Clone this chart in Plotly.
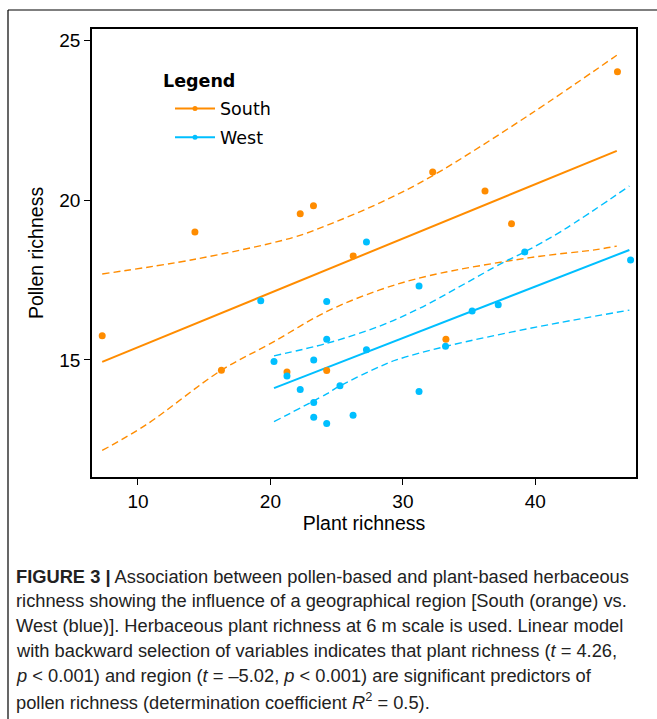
import plotly.graph_objects as go

# ---------------- data ----------------
south_x = [7.3, 14.3, 16.3, 21.25, 22.25, 23.25, 24.25, 26.25, 32.25, 33.25, 36.2, 38.2, 46.2]
south_y = [15.76, 19.0, 14.68, 14.62, 19.57, 19.82, 14.67, 18.25, 20.88, 15.65, 20.28, 19.26, 24.01]

west_x = [19.27, 24.25, 24.25, 20.27, 23.27, 21.25, 27.25, 22.25, 25.25, 23.27, 23.27, 24.25,
          26.24, 31.22, 31.22, 35.23, 37.2, 33.22, 39.2, 47.19, 27.25]
west_y = [16.85, 16.83, 15.65, 14.95, 15.0, 14.5, 15.32, 14.08, 14.19, 13.67, 13.21, 13.01,
          13.27, 17.31, 14.01, 16.53, 16.73, 15.43, 18.38, 18.13, 18.69]

# fitted lines (end points)
south_fit_x = [7.3, 46.15]
south_fit_y = [14.94, 21.54]
west_fit_x = [20.27, 47.1]
west_fit_y = [14.12, 18.44]

# confidence bands
south_up_x = [7.3, 14.3, 21.7, 24.5, 28.3, 32.2, 39.6, 46.15]
south_up_y = [17.69, 18.15, 18.83, 19.25, 19.92, 20.75, 22.68, 24.53]
south_lo_x = [7.3, 10.6, 16.3, 19.95, 24.23, 28.25, 32.03, 39.6, 44.6, 46.15]
south_lo_y = [12.17, 12.97, 14.68, 15.5, 16.51, 17.19, 17.64, 18.2, 18.45, 18.56]

west_up_x = [20.27, 24.25, 28.25, 31.28, 37.45, 39.2, 42.1, 47.1]
west_up_y = [15.13, 15.52, 16.06, 16.62, 18.02, 18.38, 19.06, 20.44]
west_lo_x = [20.27, 24.25, 25.25, 28.25, 29.5, 33.2, 39.6, 47.1]
west_lo_y = [13.07, 13.94, 14.19, 14.79, 15.0, 15.42, 15.99, 16.56]

x_ticks = [10, 20, 30, 40]
y_ticks = [15, 20, 25]

series_names = ["South", "West"]
legend_title = "Legend"

caption_lines = [
    "<b>FIGURE 3 |</b> Association between pollen-based and plant-based herbaceous",
    "richness showing the influence of a geographical region [South (orange) vs.",
    "West (blue)]. Herbaceous plant richness at 6 m scale is used. Linear model",
    "with backward selection of variables indicates that plant richness (<i>t</i> = 4.26,",
    "<i>p</i> &lt; 0.001) and region (<i>t</i> = \u20135.02, <i>p</i> &lt; 0.001) are significant predictors of",
    "pollen richness (determination coefficient <i>R</i><sup>2</sup> = 0.5).",
]

# ---------------- styling ----------------
ORANGE = "#FF8C00"
BLUE = "#00BFFF"
W, H = 657, 719
ML, MR, MT, MB = 92, 21, 29, 242
PW, PH = W - ML - MR, H - MT - MB


def px(xp):
    return (xp - ML) / PW


def py(yp):
    return (H - MB - yp) / PH


fig = go.Figure()

for xs, ys, col in [(south_up_x, south_up_y, ORANGE), (south_lo_x, south_lo_y, ORANGE),
                    (west_up_x, west_up_y, BLUE), (west_lo_x, west_lo_y, BLUE)]:
    fig.add_trace(go.Scatter(x=xs, y=ys, mode="lines", showlegend=False, hoverinfo="skip",
                             line=dict(color=col, width=1.4, dash="7px,4px", shape="spline")))

for xs, ys, col in [(south_fit_x, south_fit_y, ORANGE), (west_fit_x, west_fit_y, BLUE)]:
    fig.add_trace(go.Scatter(x=xs, y=ys, mode="lines", showlegend=False, hoverinfo="skip",
                             line=dict(color=col, width=2)))

fig.add_trace(go.Scatter(x=south_x, y=south_y, mode="markers", showlegend=False,
                         marker=dict(color=ORANGE, size=7)))
fig.add_trace(go.Scatter(x=west_x, y=west_y, mode="markers", showlegend=False,
                         marker=dict(color=BLUE, size=7)))

# legend entries
for name, col in zip(series_names, [ORANGE, BLUE]):
    fig.add_trace(go.Scatter(x=[None], y=[None], mode="lines+markers", name=name, legendgroup=name,
                             line=dict(color=col, width=2), marker=dict(color=col, size=5)))

axis_common = dict(showline=True, mirror=True, linecolor="black", linewidth=1.6,
                   ticks="outside", ticklen=6, tickwidth=1.3, tickcolor="black",
                   showgrid=False, zeroline=False,
                   tickfont=dict(family="Liberation Sans, Arial", size=19, color="black"),
                   title_font=dict(family="Liberation Sans, Arial", size=19.5, color="black"))

fig.update_xaxes(range=[6.53, 47.6], tickvals=x_ticks, title_text="Plant richness",
                 title_standoff=6, **axis_common)
fig.update_yaxes(range=[11.34, 25.35], tickvals=y_ticks, title_text="Pollen richness",
                 title_standoff=10, **axis_common)

shapes = [
    dict(type="line", xref="paper", yref="paper", x0=px(8), x1=px(W + 5), y0=py(10), y1=py(10),
         line=dict(color="black", width=1.2)),
    dict(type="line", xref="paper", yref="paper", x0=px(8), x1=px(8), y0=py(10), y1=py(H + 5),
         line=dict(color="black", width=1.2)),
]

annotations = [dict(text="<b>%s</b>" % legend_title, xref="paper", yref="paper", x=px(161), y=py(81),
                    xanchor="left", yanchor="middle", showarrow=False,
                    font=dict(family="DejaVu Sans", size=17.5, color="black"))]
for i, line in enumerate(caption_lines):
    annotations.append(dict(text=line, xref="paper", yref="paper", x=px(14), y=py(576 + i * 24.9),
                            xanchor="left", yanchor="middle", showarrow=False, align="left",
                            font=dict(family="Liberation Sans, Arial", size=18.3, color="#222")))

fig.update_layout(
    width=W, height=H,
    margin=dict(l=ML, r=MR, t=MT, b=MB, pad=0),
    paper_bgcolor="white", plot_bgcolor="white",
    shapes=shapes, annotations=annotations,
    legend=dict(x=px(170), y=py(90.5), xanchor="left", yanchor="top",
                bgcolor="rgba(0,0,0,0)", itemwidth=40, tracegroupgap=3,
                font=dict(family="DejaVu Sans", size=17.5, color="black")),
)

fig.write_html("out.html", config={"displayModeBar": False},
               post_script="document.body.style.margin='0';document.body.style.overflow='hidden';")
